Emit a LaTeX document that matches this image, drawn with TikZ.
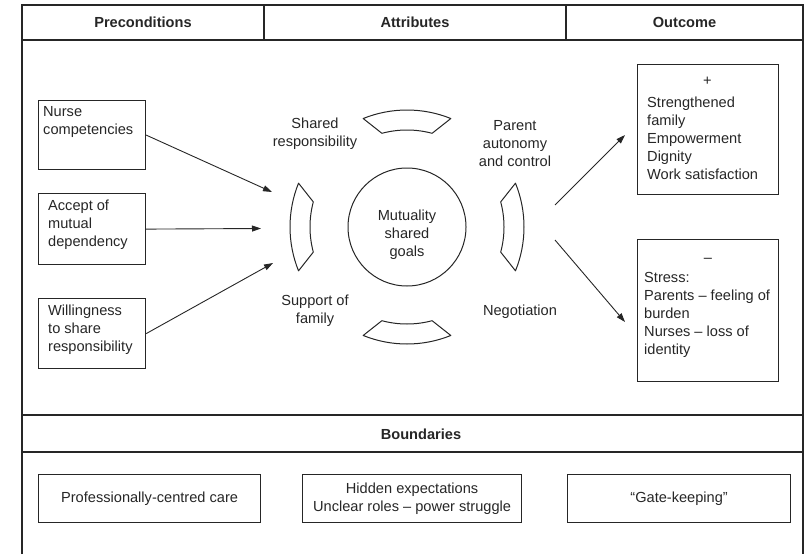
\documentclass[tikz,border=0pt]{standalone}
\usepackage{fontspec}
\setmainfont{Liberation Sans}
\usetikzlibrary{arrows.meta}
\definecolor{ink}{HTML}{262626}
\begin{document}
\begin{tikzpicture}[x=1pt,y=-1pt,
  txt/.style={font=\fontsize{14.6}{18}\selectfont, text=ink, inner sep=0pt},
  ctxt/.style={txt, align=center},
  ltxt/.style={txt, align=left, anchor=west},
  head/.style={txt, font=\fontsize{14.6}{18}\selectfont\bfseries},
  rule/.style={draw=ink, line width=1.2pt},
  box/.style={draw=ink, line width=1.2pt, inner sep=0pt, anchor=north west},
  piece/.style={draw=ink, line width=1pt, line join=round},
  link/.style={draw=ink, line width=0.9pt, -{Triangle[length=9pt,width=6pt]}}]
\useasboundingbox (0,0) rectangle (808,554);

% outer frame, open at the bottom
\draw[rule] (22,554) -- (22,5) -- (803,5) -- (803,554);
% header row
\draw[rule] (22,40) -- (803,40);
\draw[rule] (264,5) -- (264,40);
\draw[rule] (566,5) -- (566,40);
\node[head] (hpre) at (143,22.5) {Preconditions};
\node[head] (hatt) at (415,22.5) {Attributes};
\node[head] (hout) at (684.5,22.5) {Outcome};

% boundaries row
\draw[rule] (22,415) -- (803,415);
\draw[rule] (22,452) -- (803,452);
\node[head] (hbnd) at (421,434) {Boundaries};

% preconditions
\node[box, minimum width=107pt, minimum height=69pt] (n1) at (38,100) {};
\node[box, minimum width=107pt, minimum height=71pt] (n2) at (38,193) {};
\node[box, minimum width=107pt, minimum height=70pt] (n3) at (38,298) {};
\node[ltxt] (n1t) at (43,122) {Nurse\\competencies};
\node[ltxt] (n2t) at (48,225) {Accept of\\mutual\\dependency};
\node[ltxt] (n3t) at (48,330) {Willingness\\to share\\responsibility};

\coordinate (t1) at (272,192);
\coordinate (t2) at (261,228.5);
\coordinate (t3) at (273,263);
\draw[link] (n1.east) -- (t1);
\draw[link] (n2.east) -- (t2);
\draw[link] (n3.east) -- (t3);

% attributes: four ring segments around the core
\foreach \a in {0,90,180,270}
  \draw[piece, shift={(407,227)}]
    (\a+22:117) arc[start angle=\a+22, end angle=\a-22, radius=117]
    -- (\a-15:97) arc[start angle=\a-15, end angle=\a+15, radius=97] -- cycle;

\node[draw=ink, line width=1pt, circle, minimum size=118pt, inner sep=0pt] (core) at (407,227) {};
\node[ctxt] (coret) at (407,235) {Mutuality\\shared\\goals};

\node[ctxt] (a1) at (315,134) {Shared\\responsibility};
\node[ctxt] (a2) at (515,143.5) {Parent\\autonomy\\and control};
\node[ctxt] (a3) at (315,310.5) {Support of\\family};
\node[ctxt] (a4) at (520,312) {Negotiation};

% outcomes
\node[box, minimum width=141pt, minimum height=130pt] (o1) at (637,64) {};
\node[box, minimum width=141pt, minimum height=142pt] (o2) at (637,239) {};
\node[ctxt] (o1s) at (707.5,81) {+};
\node[ltxt] (o1t) at (647,138.5) {Strengthened\\family\\Empowerment\\Dignity\\Work satisfaction};
\node[ctxt] (o2s) at (708,260) {–};
\node[ltxt] (o2t) at (644,314.5) {Stress:\\Parents – feeling of\\burden\\Nurses – loss of\\identity};

\coordinate (s1) at (555,205);
\coordinate (e1) at (625,135);
\coordinate (s2) at (555,240);
\coordinate (e2) at (625,322);
\draw[link] (s1) -- (e1);
\draw[link] (s2) -- (e2);

% boundaries
\node[box, minimum width=222pt, minimum height=48pt] (b1) at (38,474) {};
\node[box, minimum width=219pt, minimum height=48pt] (b2) at (302,474) {};
\node[box, minimum width=223pt, minimum height=48pt] (b3) at (567,474) {};
\node[ctxt] (b1t) at (b1.center) {Professionally-centred care};
\node[ctxt] (b2t) at (b2.center) {Hidden expectations\\Unclear roles – power struggle};
\node[ctxt] (b3t) at (b3.center) {“Gate-keeping”};
\end{tikzpicture}
\end{document}
